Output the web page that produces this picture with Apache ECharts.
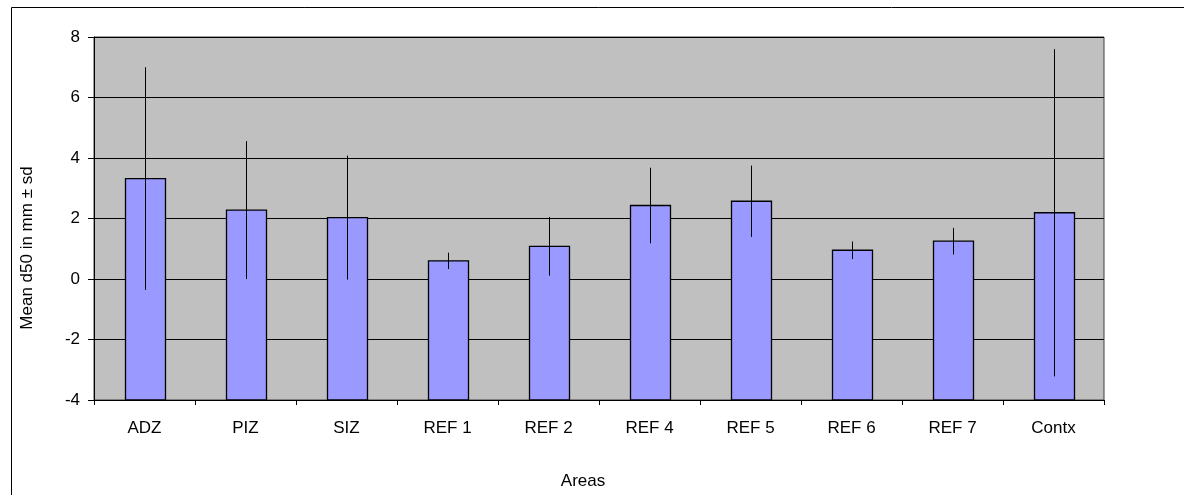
<!DOCTYPE html>
<html>
<head>
<meta charset="utf-8">
<script src="https://cdn.jsdelivr.net/npm/echarts@6/dist/echarts.min.js"></script>
<style>
  html, body { margin: 0; padding: 0; background: #fff; }
  #chart { width: 1184px; height: 495px; }
</style>
</head>
<body>
<div id="chart"></div>
<script>
// data
var areas = ['ADZ', 'PIZ', 'SIZ', 'REF 1', 'REF 2', 'REF 4', 'REF 5', 'REF 6', 'REF 7', 'Contx'];
var meanD50 = [3.32, 2.28, 2.03, 0.60, 1.08, 2.43, 2.57, 0.95, 1.25, 2.19];
var sdD50 = [3.68, 2.28, 2.05, 0.27, 0.97, 1.25, 1.18, 0.29, 0.44, 5.41];
var yTicks = { min: -4, max: 8, step: 2 };

var font = 'Liberation Sans, Arial, sans-serif';

// bars start at the axis floor (-4), like the original Excel chart
var barData = [];
var errData = [];
for (var i = 0; i < areas.length; i++) {
    barData.push([i, meanD50[i]]);
    errData.push([i, meanD50[i] - sdD50[i], meanD50[i] + sdD50[i]]);
}

var chart = echarts.init(document.getElementById('chart'));
chart.setOption({
    animation: false,
    backgroundColor: '#fff',
    textStyle: { fontFamily: font },
    grid: {
        left: 94, top: 37, width: 1010, height: 363,
        show: true, backgroundColor: '#C0C0C0',
        borderColor: '#404040', borderWidth: 1
    },
    xAxis: {
        type: 'category',
        data: areas,
        axisLine: { onZero: false, lineStyle: { color: '#000', width: 1 } },
        axisTick: { show: true, length: 5, lineStyle: { color: '#000' } },
        axisLabel: { color: '#000', fontSize: 17, margin: 20, fontFamily: font }
    },
    yAxis: {
        type: 'value',
        min: yTicks.min, max: yTicks.max, interval: yTicks.step,
        axisLine: { show: true, lineStyle: { color: '#000', width: 1 } },
        axisTick: { show: true, length: 6, lineStyle: { color: '#000' } },
        axisLabel: { color: '#000', fontSize: 17, margin: 14, fontFamily: font },
        splitLine: { show: true, lineStyle: { color: '#000', width: 1 } }
    },
    series: [
        {
            type: 'custom',
            data: barData,
            z: 2,
            renderItem: function (params, api) {
                var top = api.coord([api.value(0), api.value(1)]);
                var base = api.coord([api.value(0), yTicks.min]);
                var w = 40;
                return {
                    type: 'rect',
                    shape: { x: Math.round(top[0] - w / 2) + 0.5, y: top[1], width: w, height: base[1] - top[1] },
                    style: { fill: '#9999FF', stroke: '#000', lineWidth: 1.3 }
                };
            }
        },
        {
            type: 'custom',
            data: errData,
            z: 3,
            renderItem: function (params, api) {
                var lo = api.coord([api.value(0), api.value(1)]);
                var hi = api.coord([api.value(0), api.value(2)]);
                var x = Math.round(lo[0]) + 0.5;
                return {
                    type: 'line',
                    shape: { x1: x, y1: hi[1], x2: x, y2: lo[1] },
                    style: { stroke: '#000', lineWidth: 1 }
                };
            }
        }
    ],
    graphic: [
        {
            type: 'rect', left: 9, top: 5, silent: true,
            shape: { x: 0, y: 0, width: 1200, height: 520 },
            style: { fill: 'none', stroke: '#000', lineWidth: 1 }
        },
        {
            type: 'text', x: 27, y: 248, rotation: Math.PI / 2,
            style: {
                text: 'Mean d50 in mm ± sd', fill: '#000', font: '17px ' + font,
                textAlign: 'center', textVerticalAlign: 'middle'
            }
        },
        {
            type: 'text', x: 583, y: 481,
            style: {
                text: 'Areas', fill: '#000', font: '17px ' + font,
                textAlign: 'center', textVerticalAlign: 'middle'
            }
        }
    ]
});
</script>
</body>
</html>
